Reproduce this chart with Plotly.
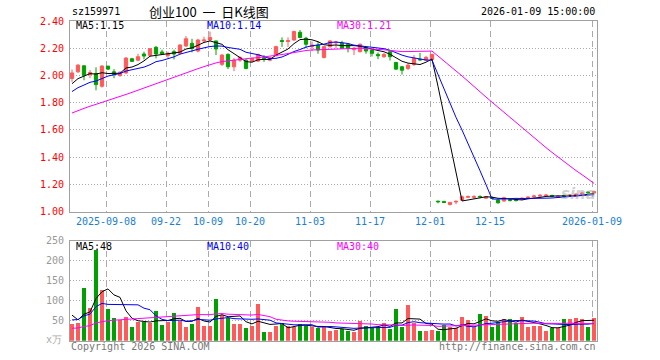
import plotly.graph_objects as go

# ---------------- data ----------------
tick_labels = ["2025-09-08", "09-22", "10-09", "10-20", "11-03", "11-17", "12-01", "12-15", "2026-01-09"]
tick_index = [6, 16, 23, 30, 40, 50, 60, 70, 87]

opens = [1.978, 2.027, 2.071, 2.007, 2.015, 1.921, 2.069, 2.027, 2.000, 2.019,
         2.123, 2.113, 2.158, 2.148, 2.207, 2.173, 2.148, 2.175, 2.163, 2.217,
         2.237, 2.180, 2.255, 2.261, 2.254, 2.082, 2.155, 2.064, 2.113, 2.113,
         2.106, 2.106, 2.130, 2.113, 2.145, 2.257, 2.250, 2.261, 2.318, 2.274,
         2.212, 2.224, 2.133, 2.212, 2.240, 2.237, 2.230, 2.190, 2.175, 2.205,
         2.187, 2.155, 2.138, 2.175, 2.096, 2.064, 2.052, 2.082, 2.120, 2.113,
         2.118, 1.076, 1.074, 1.052, 1.070, 1.084, 1.105, 1.105, 1.111, 1.098,
         1.103, 1.084, 1.077, 1.086, 1.085, 1.090, 1.101, 1.108, 1.113, 1.116,
         1.118, 1.103, 1.118, 1.116, 1.113, 1.130, 1.143, 1.136]
highs = [2.044, 2.084, 2.075, 2.040, 2.060, 2.076, 2.070, 2.047, 2.030, 2.135,
         2.130, 2.160, 2.175, 2.200, 2.217, 2.190, 2.175, 2.190, 2.230, 2.290,
         2.270, 2.270, 2.285, 2.323, 2.256, 2.158, 2.163, 2.128, 2.140, 2.120,
         2.130, 2.160, 2.150, 2.135, 2.220, 2.280, 2.280, 2.330, 2.335, 2.285,
         2.250, 2.250, 2.220, 2.260, 2.255, 2.255, 2.235, 2.210, 2.235, 2.210,
         2.190, 2.170, 2.165, 2.180, 2.100, 2.070, 2.090, 2.150, 2.167, 2.145,
         2.160, 1.079, 1.078, 1.070, 1.083, 1.118, 1.118, 1.120, 1.118, 1.113,
         1.108, 1.088, 1.108, 1.093, 1.091, 1.103, 1.113, 1.123, 1.128, 1.130,
         1.123, 1.120, 1.123, 1.128, 1.133, 1.143, 1.148, 1.153]
lows = [1.953, 2.020, 1.965, 1.980, 1.891, 1.911, 2.040, 1.980, 1.990, 2.010,
        2.100, 2.105, 2.118, 2.140, 2.126, 2.150, 2.126, 2.118, 2.155, 2.210,
        2.170, 2.170, 2.240, 2.254, 2.150, 2.070, 2.047, 2.032, 2.100, 2.045,
        2.100, 2.100, 2.100, 2.105, 2.140, 2.210, 2.210, 2.255, 2.275, 2.200,
        2.180, 2.160, 2.125, 2.205, 2.200, 2.195, 2.170, 2.150, 2.170, 2.160,
        2.140, 2.120, 2.130, 2.110, 2.040, 2.007, 2.040, 2.070, 2.110, 2.110,
        2.110, 1.060, 1.063, 1.044, 1.053, 1.078, 1.098, 1.093, 1.098, 1.093,
        1.093, 1.058, 1.073, 1.073, 1.073, 1.083, 1.093, 1.103, 1.108, 1.108,
        1.108, 1.100, 1.103, 1.108, 1.108, 1.123, 1.133, 1.133]
closes = [2.019, 2.076, 2.002, 2.022, 1.933, 2.069, 2.047, 2.008, 2.024, 2.128,
          2.104, 2.138, 2.143, 2.197, 2.158, 2.158, 2.163, 2.158, 2.224, 2.270,
          2.200, 2.261, 2.261, 2.279, 2.195, 2.150, 2.064, 2.113, 2.133, 2.052,
          2.126, 2.155, 2.126, 2.130, 2.212, 2.250, 2.256, 2.323, 2.279, 2.230,
          2.224, 2.187, 2.212, 2.254, 2.245, 2.200, 2.200, 2.200, 2.230, 2.180,
          2.163, 2.145, 2.155, 2.138, 2.047, 2.039, 2.076, 2.126, 2.115, 2.133,
          2.155, 1.072, 1.066, 1.067, 1.074, 1.108, 1.109, 1.108, 1.108, 1.108,
          1.097, 1.064, 1.101, 1.082, 1.081, 1.097, 1.105, 1.114, 1.119, 1.120,
          1.112, 1.110, 1.110, 1.121, 1.128, 1.135, 1.138, 1.146]
volumes = [41.7, 44, 131.7, 82.5, 227.5, 126.7, 79, 56.7, 51.7, 59,
           34, 48, 48, 44, 74, 39, 48, 69, 50, 34,
           41.7, 84, 36.7, 36.7, 104, 64, 58, 41.7, 41.7, 31.7,
           36.7, 91.7, 21.7, 21.7, 36.7, 44, 36.7, 34, 41.7, 36.7,
           34, 31.7, 34, 25, 28, 31, 25, 21.7, 49, 36.7,
           34, 34, 44, 31, 79, 34, 89, 44, 24, 24,
           26.7, 24, 39, 34, 31.7, 59, 51.7, 34, 66.7, 61.7,
           34, 46.7, 54, 54, 44, 59, 34, 36.7, 36.7, 24,
           31.7, 31.7, 54, 54, 56.7, 54, 34, 56.7]
# closes / volumes of the 29 sessions before the window (estimated from the MA lines)
pre_close = [1.52, 1.54, 1.55, 1.57, 1.58, 1.60, 1.61, 1.62, 1.63, 1.64,
             1.65, 1.66, 1.67, 1.68, 1.70, 1.71, 1.72, 1.74, 1.75, 1.77,
             1.79, 1.81, 1.82, 1.84, 1.86, 1.89, 1.91, 1.93, 1.95]
pre_vol = [20, 18, 22, 19, 21, 17, 23, 20, 19, 22,
           24, 18, 21, 20, 19, 23, 22, 20, 21, 21,
           35, 38, 42, 40, 45, 104, 60, 55, 59.3]

ma_price_labels = ["MA5:1.15", "MA10:1.14", "MA30:1.21"]
ma_vol_labels = ["MA5:48", "MA10:40", "MA30:40"]

# ---------------- helpers ----------------
N = len(closes)
idx = list(range(N))


def moving_avg(series, prior, n):
    full = prior + series
    off = len(prior)
    return [sum(full[off + k - n + 1: off + k + 1]) / n for k in range(len(series))]


RED = "#ff5a5a"
GREEN = "#00a000"
MA_COLORS = ["#000000", "#0000ff", "#ff00ff"]
GRID = "#aaaaaa"
BORDER = "#a0a0a0"
MONO = "DejaVu Sans Mono"
W, H = 660, 360


def py(y):
    return 1 - y / H


fig = go.Figure()

fig.add_trace(go.Candlestick(
    x=idx, open=opens, high=highs, low=lows, close=closes,
    increasing=dict(line=dict(color=RED, width=1), fillcolor=RED),
    decreasing=dict(line=dict(color=GREEN, width=1), fillcolor=GREEN),
    whiskerwidth=0, hoverinfo="skip", xaxis="x", yaxis="y"))

for n, c in zip([5, 10, 30], MA_COLORS):
    fig.add_trace(go.Scatter(x=idx, y=moving_avg(closes, pre_close, n), mode="lines",
                             line=dict(color=c, width=1), hoverinfo="skip",
                             xaxis="x", yaxis="y"))

vol_colors = [RED if c >= o else GREEN for o, c in zip(opens, closes)]
fig.add_trace(go.Bar(x=idx, y=volumes, marker=dict(color=vol_colors, line=dict(width=0)),
                     width=0.82, hoverinfo="skip", xaxis="x2", yaxis="y2"))
for n, c in zip([5, 10, 30], MA_COLORS):
    fig.add_trace(go.Scatter(x=idx, y=moving_avg(volumes, pre_vol, n), mode="lines",
                             line=dict(color=c, width=1), hoverinfo="skip",
                             xaxis="x2", yaxis="y2"))

grid_x = [t - 0.333 for t in tick_index]
xcommon = dict(domain=[70 / W, 597 / W], range=[-0.333, 87.5], tickvals=grid_x,
               showgrid=True, gridcolor=GRID, griddash="6px,4px", gridwidth=1,
               showline=True, linecolor=BORDER, linewidth=1, mirror=True,
               ticks="", zeroline=False, fixedrange=True, automargin=False)

price_ticks = [1.0, 1.2, 1.4, 1.6, 1.8, 2.0, 2.2, 2.4]
vol_ticks = [50, 100, 150, 200, 250]

fig.update_layout(
    width=W, height=H, autosize=False,
    margin=dict(l=0, r=0, t=0, b=0, pad=0, autoexpand=False),
    paper_bgcolor="white", plot_bgcolor="white", showlegend=False,
    boxgap=0.22, bargap=0,
    xaxis=dict(**xcommon, anchor="y", ticktext=tick_labels,
               tickfont=dict(family=MONO, size=10, color="#1a80d0"),
               rangeslider=dict(visible=False)),
    yaxis=dict(domain=[py(211.5), py(21.1)], range=[1.0, 2.4], tickvals=price_ticks,
               ticktext=["%.2f" % v for v in price_ticks],
               tickfont=dict(family=MONO, size=10, color="#ff0000"),
               showgrid=True, gridcolor=GRID, griddash="1px,2px", gridwidth=1,
               showline=True, linecolor=BORDER, linewidth=1, mirror=True,
               ticks="", ticklabelstandoff=3, zeroline=False, fixedrange=True,
               automargin=False, anchor="x"),
    xaxis2=dict(**xcommon, anchor="y2", showticklabels=False),
    yaxis2=dict(domain=[py(340.7), py(240.7)], range=[0, 250], tickvals=vol_ticks,
                ticktext=[str(v) for v in vol_ticks],
                tickfont=dict(family=MONO, size=10, color="#999999"),
                showgrid=True, gridcolor=GRID, griddash="1px,2px", gridwidth=1,
                showline=True, linecolor=BORDER, linewidth=1, mirror=True,
                ticks="", ticklabelstandoff=3, zeroline=False, fixedrange=True,
                automargin=False, anchor="x2"),
)


def note(text, x, y, anchor="left", color="#000000", size=10, family=MONO, **kw):
    fig.add_annotation(text=text, x=x / W, y=py(y), xref="paper", yref="paper",
                       xanchor=anchor, yanchor="middle", showarrow=False,
                       font=dict(family=family, size=size, color=color), **kw)


note("sz159971", 70, 12)
note("创业100\u00a0\u00a0一\u00a0\u00a0日K线图", 209, 12, anchor="center", size=13,
     family="Noto Sans CJK SC")
note("2026-01-09 15:00:00", 597, 12, anchor="right")
for t, x, c in zip(ma_price_labels, [74, 204.5, 334.5], MA_COLORS):
    note(t, x, 26, color=c)
for t, x, c in zip(ma_vol_labels, [74, 204.5, 334.5], MA_COLORS):
    note(t, x, 246, color=c)
note("x万", 64, 339, anchor="right", color="#aaaaaa")
note("Copyright 2026 SINA.COM", 69, 346, color="#777777")
note("http://finance.sina.com.cn", 598, 346, anchor="right", color="#777777")
note("<b><i>sina</i></b>", 578, 194, anchor="center", color="rgba(170,170,170,0.55)",
     size=15, family="DejaVu Sans")

fig.write_html("out.html", config={"displayModeBar": False},
               post_script="document.body.style.margin='0px';"
                           "document.documentElement.style.overflow='hidden';")
